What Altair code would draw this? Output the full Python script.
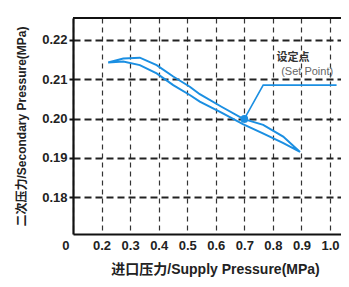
import altair as alt
import pandas as pd

# hysteresis loop (upper branch going right, lower branch coming back)
upper_x = [0.223, 0.276, 0.334, 0.393, 0.451, 0.509, 0.544, 0.62, 0.696, 0.766, 0.836, 0.895]
upper_y = [0.2143, 0.2153, 0.2155, 0.2136, 0.2107, 0.2081, 0.2062, 0.2030, 0.1999, 0.1984, 0.1954, 0.1915]
lower_x = [0.895, 0.835, 0.765, 0.695, 0.62, 0.544, 0.509, 0.451, 0.393, 0.334, 0.276, 0.223]
lower_y = [0.1915, 0.1938, 0.1962, 0.1986, 0.2015, 0.2043, 0.2060, 0.2085, 0.2115, 0.2136, 0.2145, 0.2143]

# set point and its leader line
setpoint_x = [0.70]
setpoint_y = [0.1999]
leader_x = [0.70, 0.766, 1.023]
leader_y = [0.1999, 0.2085, 0.2085]
note_cn = ["设定点"]
note_cn_x = [0.87]
note_cn_y = [0.2154]
note_en = ["(Set Point)"]
note_en_x = [0.92]
note_en_y = [0.2119]

x_ticks = [0.1, 0.2, 0.3, 0.4, 0.5, 0.6, 0.7, 0.8, 0.9, 1.0]
y_ticks = [0.18, 0.19, 0.20, 0.21, 0.22]

FONT = "Liberation Sans, Noto Sans CJK SC"
BLUE = "#1b8fe2"
W, H = 268, 216

loop_x = upper_x + lower_x
loop_y = upper_y + lower_y
loop = pd.DataFrame({"x": loop_x, "y": loop_y, "o": list(range(len(loop_x)))})
leader = pd.DataFrame({"x": leader_x, "y": leader_y, "o": list(range(len(leader_x)))})
sp = pd.DataFrame({"x": setpoint_x, "y": setpoint_y})
cn = pd.DataFrame({"t": note_cn, "x": note_cn_x, "y": note_cn_y})
en = pd.DataFrame({"t": note_en, "x": note_en_x, "y": note_en_y})

xscale = alt.Scale(domain=[0.1, 1.0385], nice=False, zero=False)
yscale = alt.Scale(domain=[0.1706, 0.2256], nice=False, zero=False)

xaxis = alt.Axis(
    values=x_ticks,
    tickCount=20,
    labelExpr="datum.value < 0.15 ? '0' : format(datum.value, '.1f')",
    labelAlign={"condition": {"test": "datum.value < 0.15", "value": "right"}, "value": "center"},
    labelOffset={"condition": {"test": "datum.value < 0.15", "value": -4}, "value": 0},
    labelOverlap=False,
    labelFlush=False,
    ticks=False,
    grid=True, gridDash=[5, 4], gridColor="#333", gridWidth=1.2, gridOpacity=1,
    domainColor="#111", domainWidth=2.2,
    labelFont=FONT, labelFontSize=13, labelFontWeight="bold", labelColor="#222",
    labelPadding=5,
    title="进口压力/Supply Pressure(MPa)",
    titleFont=FONT, titleFontSize=14, titleFontWeight="bold", titleColor="#222",
    titleX=142, titleY=35, titleBaseline="middle",
)
yaxis = alt.Axis(
    values=y_ticks, format=".2f",
    tickCount=20,
    labelOverlap=False,
    tickSize=4, tickWidth=2, tickColor="#111",
    grid=True, gridDash=[7, 4], gridColor="#222", gridWidth=1.8, gridOpacity=1,
    domainColor="#111", domainWidth=2.2,
    labelFont=FONT, labelFontSize=13, labelFontWeight="bold", labelColor="#222",
    labelPadding=2,
    title="二次压力/Secondary Pressure(MPa)",
    titleFont=FONT, titleFontSize=12, titleFontWeight="bold", titleColor="#222",
    titleX=-52, titleY=H / 2, titleAngle=-90, titleBaseline="middle", titleAlign="center",
)

loop_layer = alt.Chart(loop).mark_line(color=BLUE, strokeWidth=2).encode(
    x=alt.X("x:Q", scale=xscale, axis=xaxis),
    y=alt.Y("y:Q", scale=yscale, axis=yaxis),
    order="o:Q",
)
leader_layer = alt.Chart(leader).mark_line(color=BLUE, strokeWidth=1.6).encode(
    x="x:Q", y="y:Q", order="o:Q"
)
dot_layer = alt.Chart(sp).mark_circle(color=BLUE, size=60, opacity=1).encode(
    x="x:Q", y="y:Q"
)
cn_layer = alt.Chart(cn).mark_text(
    font=FONT, fontSize=11, fontWeight="bold", color="#333", baseline="middle", align="center"
).encode(x="x:Q", y="y:Q", text="t:N")
en_layer = alt.Chart(en).mark_text(
    font=FONT, fontSize=11, color="#666", baseline="middle", align="center"
).encode(x="x:Q", y="y:Q", text="t:N")
top_border = alt.Chart(sp).mark_rule(color="#111", strokeWidth=2.2).encode(
    x=alt.value(0), x2=alt.value(W), y=alt.value(0)
)

chart = alt.layer(loop_layer, leader_layer, dot_layer, cn_layer, en_layer, top_border).properties(
    width=W, height=H,
    autosize=alt.AutoSizeParams(type="none"),
    padding={"left": 65, "top": 10, "right": 0, "bottom": 45},
).configure_view(stroke=None).configure(background="white")

chart.save("out.html", embed_options={"renderer": "svg", "actions": False})
